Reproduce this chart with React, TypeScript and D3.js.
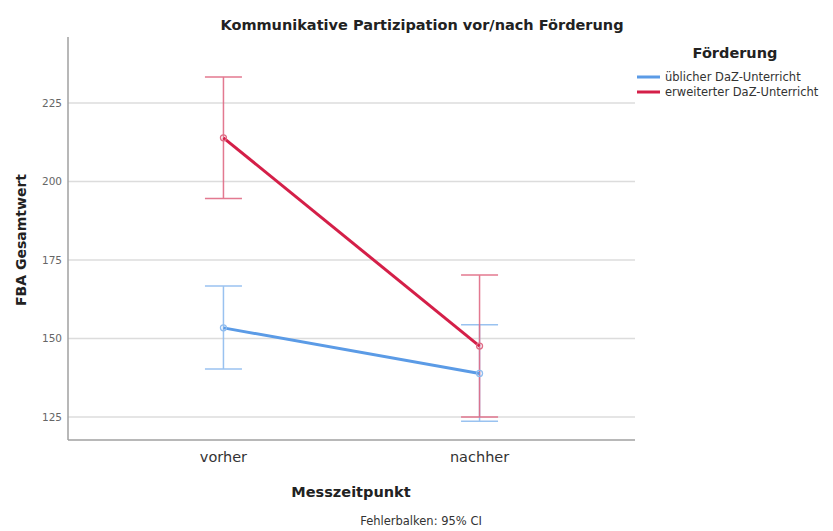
import React from "react";
import * as d3 from "d3";

const categories = ["vorher", "nachher"];
const seriesNames = ["üblicher DaZ-Unterricht", "erweiterter DaZ-Unterricht"];
const meanUeblich = [153.4, 138.9];
const lowUeblich = [140.3, 123.7];
const highUeblich = [166.7, 154.4];
const meanErweitert = [213.9, 147.6];
const lowErweitert = [194.6, 125.0];
const highErweitert = [233.3, 170.2];
const yTicks = [125, 150, 175, 200, 225];

const W = 833;
const H = 531;
const left = 68;
const right = 635;
const top = 37;
const bottom = 440;

const series = [
  { name: seriesNames[0], mean: meanUeblich, low: lowUeblich, high: highUeblich, line: "#5b9be6", err: "#8fbcef" },
  { name: seriesNames[1], mean: meanErweitert, low: lowErweitert, high: highErweitert, line: "#d41f48", err: "#e06b85" },
];

export default function App() {
  const x = d3.scalePoint<string>().domain(categories).range([left, right]).padding(0.607);
  const y = d3.scaleLinear().domain([117.7, 246]).range([bottom, top]);
  const line = d3
    .line<number>()
    .x((_, i) => x(categories[i]) as number)
    .y((d) => y(d));
  const font = "'DejaVu Sans', sans-serif";
  const cap = 18.5;
  return (
    <svg width={W} height={H} style={{ position: "absolute", left: 0, top: 0, background: "#fff" }} fontFamily={font}>
      {yTicks.map((t) => (
        <g key={t}>
          <line x1={left} x2={right} y1={y(t)} y2={y(t)} stroke="#dcdcdc" strokeWidth={1.5} />
          <text x={left - 6} y={y(t)} dy="0.35em" textAnchor="end" fontSize={10.5} fill="#666">
            {t}
          </text>
        </g>
      ))}
      <line x1={left} x2={left} y1={top} y2={bottom} stroke="#a0a0a0" strokeWidth={1.5} />
      <line x1={left} x2={right} y1={bottom} y2={bottom} stroke="#a0a0a0" strokeWidth={1.5} />
      {series.map((s) => (
        <g key={s.name}>
          {categories.map((c, i) => {
            const cx = x(c) as number;
            return (
              <g key={c} stroke={s.err} strokeWidth={1.5} opacity={0.9}>
                <line x1={cx} x2={cx} y1={y(s.low[i])} y2={y(s.high[i])} />
                <line x1={cx - cap} x2={cx + cap} y1={y(s.low[i])} y2={y(s.low[i])} />
                <line x1={cx - cap} x2={cx + cap} y1={y(s.high[i])} y2={y(s.high[i])} />
              </g>
            );
          })}
        </g>
      ))}
      {series.map((s) => (
        <g key={s.name + "l"}>
          <path d={line(s.mean) || ""} fill="none" stroke={s.line} strokeWidth={3} />
          {categories.map((c, i) => (
            <circle key={c} cx={x(c) as number} cy={y(s.mean[i])} r={3} fill="none" stroke={s.err} strokeWidth={1.3} />
          ))}
        </g>
      ))}
      {categories.map((c) => (
        <text key={c} x={x(c) as number} y={462} textAnchor="middle" fontSize={14.5} fill="#333">
          {c}
        </text>
      ))}
      <text x={351} y={497} textAnchor="middle" fontSize={14.5} fontWeight="bold" fill="#222">
        Messzeitpunkt
      </text>
      <text x={421} y={525} textAnchor="middle" fontSize={11.5} fill="#333">
        Fehlerbalken: 95% CI
      </text>
      <text transform={`translate(26, ${240}) rotate(-90)`} textAnchor="middle" fontSize={14} fontWeight="bold" fill="#222">
        FBA Gesamtwert
      </text>
      <text x={422} y={30} textAnchor="middle" fontSize={14.5} fontWeight="bold" fill="#222">
        Kommunikative Partizipation vor/nach Förderung
      </text>
      <text x={735} y={58} textAnchor="middle" fontSize={14.5} fontWeight="bold" fill="#222">
        Förderung
      </text>
      {series.map((s, i) => (
        <g key={s.name + "leg"} transform={`translate(637, ${77 + i * 15})`}>
          <line x1={0} x2={23} y1={0} y2={0} stroke={s.line} strokeWidth={3} />
          <text x={28} y={0} dy="0.35em" fontSize={11.5} fill="#333">
            {s.name}
          </text>
        </g>
      ))}
    </svg>
  );
}
